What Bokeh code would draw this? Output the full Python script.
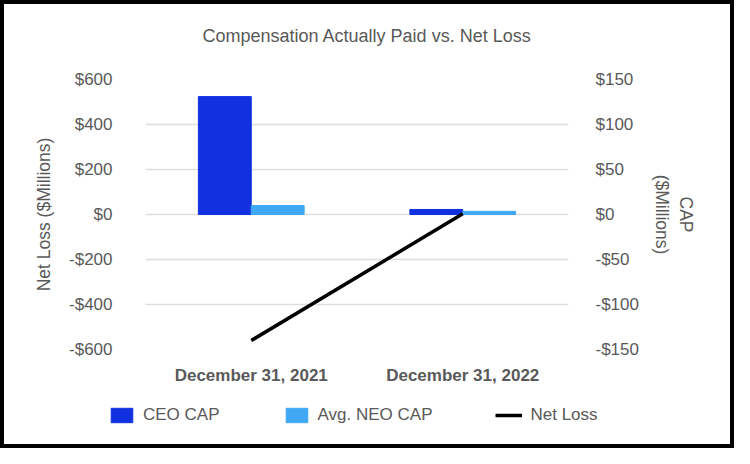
from bokeh.plotting import figure
from bokeh.models import (Range1d, LinearAxis, FixedTicker, FactorRange, Legend, LegendItem, Title)
from bokeh.transform import dodge
from bokeh.embed import file_html
from bokeh.resources import INLINE

# ---- data ----
periods = ["December 31, 2021", "December 31, 2022"]
ceo_cap = [131.0, 5.6]          # $M, right axis
neo_cap = [10.0, 3.5]           # $M, right axis
net_loss = [-560.0, 3.0]        # $M, left axis
left_ticks = [-600, -400, -200, 0, 200, 400, 600]
right_ticks = [-150, -100, -50, 0, 50, 100, 150]
series_names = ["CEO CAP", "Avg. NEO CAP", "Net Loss"]

title_text = "Compensation Actually Paid vs. Net Loss"
left_label = "Net Loss ($Millions)"
right_label = "CAP\n($Millions)"

CEO_COLOR = "#1131E0"
NEO_COLOR = "#3FA9F5"
TEXT = "#595959"
FONT = "Liberation Sans"

def money(v):
    return ("-$" if v < 0 else "$") + str(abs(v))

W = 734
H_MAIN = 395
H_LEG = 53

p = figure(width=W, height=H_MAIN, x_range=FactorRange(*periods),
           y_range=Range1d(left_ticks[0], left_ticks[-1]),
           output_backend="svg", toolbar_location=None,
           min_border_left=145, min_border_right=166,
           min_border_top=79, min_border_bottom=46)
p.extra_y_ranges = {"cap": Range1d(right_ticks[0], right_ticks[-1])}

src = dict(period=periods, ceo=ceo_cap, neo=neo_cap, loss=net_loss)
p.vbar(x=dodge("period", -0.125, range=p.x_range), top="ceo", bottom=0,
       width=0.25, color=CEO_COLOR, source=src, y_range_name="cap")
p.vbar(x=dodge("period", 0.125, range=p.x_range), top="neo", bottom=0,
       width=0.25, color=NEO_COLOR, source=src, y_range_name="cap")
p.line(x="period", y="loss", source=src, line_color="black", line_width=3.5)

# spacer between frame and title (keeps the title higher without moving the frame)
p.add_layout(Title(text=" ", text_font_size="1px", standoff=26), "above")

# title
p.title.text = title_text
p.title.align = "left"
p.title.offset = 57
p.title.text_font = FONT
p.title.text_font_size = "18px"
p.title.text_font_style = "normal"
p.title.text_color = TEXT
p.title.standoff = 10

# left axis
la = p.yaxis[0]
la.ticker = FixedTicker(ticks=left_ticks)
la.major_label_overrides = {v: money(v) for v in left_ticks}
la.axis_label = left_label

# right axis
ra = LinearAxis(y_range_name="cap", ticker=FixedTicker(ticks=right_ticks))
ra.major_label_overrides = {v: money(v) for v in right_ticks}
ra.axis_label = right_label
p.add_layout(ra, "right")

for ax in (la, ra):
    ax.axis_line_color = None
    ax.major_tick_line_color = None
    ax.minor_tick_line_color = None
    ax.major_tick_out = 0
    ax.major_tick_in = 0
    ax.major_label_text_font = FONT
    ax.major_label_text_font_size = "17px"
    ax.major_label_text_color = TEXT
    ax.axis_label_text_font = FONT
    ax.axis_label_text_font_size = "17.5px"
    ax.axis_label_text_font_style = "normal"
    ax.axis_label_text_color = TEXT
la.major_label_standoff = 33
la.axis_label_standoff = 12
ra.major_label_standoff = 27
ra.axis_label_standoff = 10

xa = p.xaxis[0]
xa.axis_line_color = None
xa.major_tick_line_color = None
xa.major_tick_out = 0
xa.major_tick_in = 0
xa.major_label_text_font = FONT
xa.major_label_text_font_size = "17px"
xa.major_label_text_font_style = "bold"
xa.major_label_text_color = TEXT
xa.major_label_standoff = 16

p.xgrid.grid_line_color = None
p.ygrid.grid_line_color = "#DEDEDE"
p.ygrid.grid_line_width = 1.5
p.ygrid.ticker = FixedTicker(ticks=left_ticks)
p.outline_line_color = None
p.background_fill_color = "white"
p.border_fill_alpha = 0
p.styles = {"box-shadow": "inset 4px 4px 0 0 black, inset -4px 0 0 0 black"}

# ---- legend strip (separate root so its frame is not aligned to the chart) ----
lf = figure(width=W, height=H_LEG, x_range=Range1d(0, 1), y_range=Range1d(0, 1),
            output_backend="svg", toolbar_location=None,
            x_axis_type=None, y_axis_type=None,
            min_border_left=20, min_border_right=20,
            min_border_top=0, min_border_bottom=13)
lf.grid.grid_line_color = None
lf.outline_line_color = None
lf.background_fill_alpha = 0
lf.border_fill_alpha = 0
lf.styles = {"box-shadow": "inset 4px -4px 0 0 black, inset -4px 0 0 0 black"}
# legend proxies: a single undrawable (NaN) point each
proxy = dict(x=[float("nan")], y=[float("nan")])
g1 = lf.vbar(x="x", top="y", width=0.1, color=CEO_COLOR, source=proxy)
g2 = lf.vbar(x="x", top="y", width=0.1, color=NEO_COLOR, source=proxy)
g3 = lf.line(x="x", y="y", line_color="black", line_width=3.5, source=proxy)
legend = Legend(items=[LegendItem(label=series_names[0], renderers=[g1]),
                       LegendItem(label=series_names[1], renderers=[g2]),
                       LegendItem(label=series_names[2], renderers=[g3])],
                orientation="horizontal", location=(88, 10),
                spacing=63, glyph_width=27, glyph_height=18, label_standoff=8,
                padding=0, margin=0, border_line_color=None,
                background_fill_alpha=0,
                label_text_font=FONT, label_text_font_size="17px",
                label_text_color=TEXT)
lf.add_layout(legend, "center")

open("out.html", "w").write(file_html([p, lf], INLINE))
